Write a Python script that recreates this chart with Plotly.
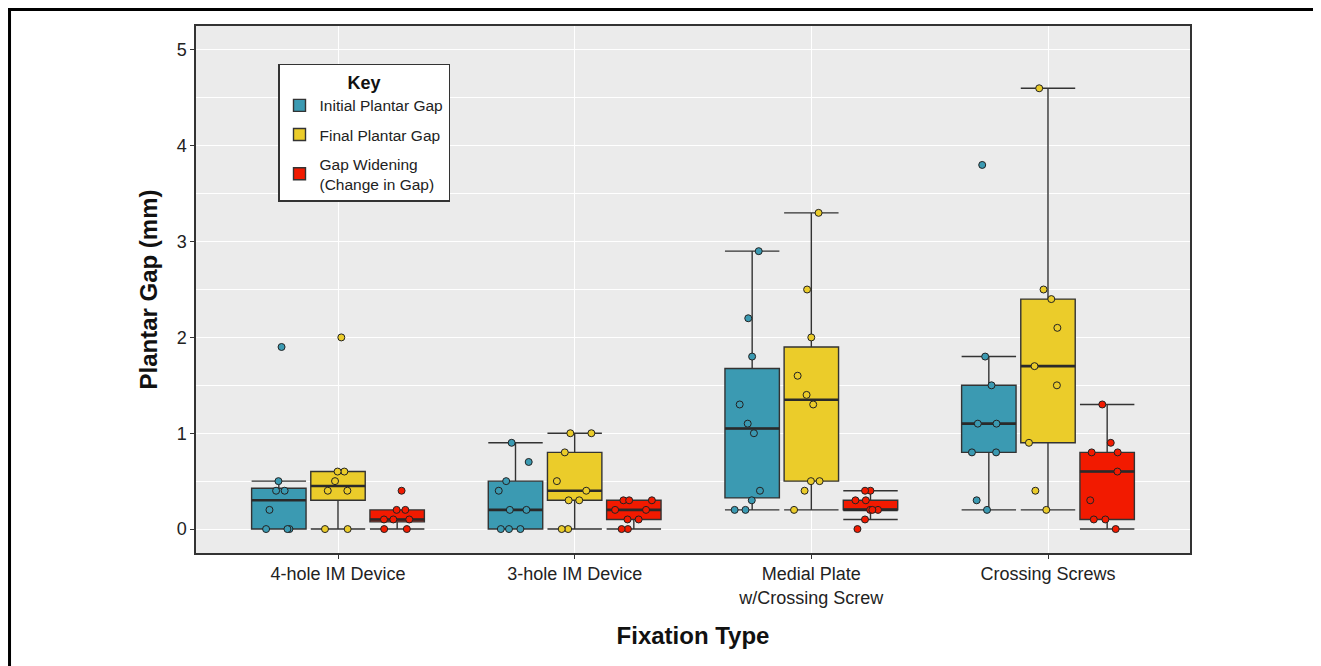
import numpy as np
import plotly.graph_objects as go

categories = ["4-hole IM Device", "3-hole IM Device", "Medial Plate<br>w/Crossing Screw", "Crossing Screws"]
series_names = ["Initial Plantar Gap", "Final Plantar Gap", "Gap Widening<br>(Change in Gap)"]
colors = ["#3B9AB2", "#EBCC2A", "#F21A00"]

initial_gap = [
    [0, 0, 0, 0.2, 0.4, 0.4, 0.5, 1.9],
    [0, 0, 0, 0.2, 0.2, 0.4, 0.5, 0.7, 0.9],
    [0.2, 0.2, 0.3, 0.4, 1.0, 1.1, 1.3, 1.8, 2.2, 2.9],
    [0.2, 0.3, 0.8, 0.8, 1.1, 1.1, 1.5, 1.8, 3.8],
]
final_gap = [
    [0, 0, 0.4, 0.4, 0.5, 0.6, 0.6, 2.0],
    [0, 0, 0.3, 0.3, 0.4, 0.5, 0.8, 1.0, 1.0],
    [0.2, 0.4, 0.5, 0.5, 1.3, 1.4, 1.6, 2.0, 2.5, 3.3],
    [0.2, 0.4, 0.9, 1.5, 1.7, 2.1, 2.4, 2.5, 4.6],
]
gap_widening = [
    [0, 0, 0.1, 0.1, 0.1, 0.2, 0.2, 0.4],
    [0, 0, 0.1, 0.1, 0.2, 0.2, 0.3, 0.3, 0.3],
    [0, 0.1, 0.2, 0.2, 0.2, 0.3, 0.3, 0.4, 0.4],
    [0, 0.1, 0.1, 0.3, 0.6, 0.8, 0.8, 0.9, 1.3],
]

y_ticks = [0, 1, 2, 3, 4, 5]

all_series = [initial_gap, final_gap, gap_widening]


def box_stats(vals):
    a = np.array(vals, dtype=float)
    q1, med, q3 = np.percentile(a, [25, 50, 75])
    iqr = q3 - q1
    lo = a[a >= q1 - 1.5 * iqr].min()
    hi = a[a <= q3 + 1.5 * iqr].max()
    return q1, med, q3, lo, hi


fig = go.Figure()
FONT = "Liberation Sans, Arial, sans-serif"

# boxes (ggplot-style, type-7 quartiles)
for k, (name, col, data) in enumerate(zip(series_names, colors, all_series)):
    stats = [box_stats(v) for v in data]
    fig.add_trace(go.Box(
        x=categories,
        q1=[s[0] for s in stats],
        median=[s[1] for s in stats],
        q3=[s[2] for s in stats],
        lowerfence=[s[3] for s in stats],
        upperfence=[s[4] for s in stats],
        name=name,
        offsetgroup=str(k),
        legendgroup=str(k),
        fillcolor=col,
        line=dict(color="#333333", width=1.4),
        whiskerwidth=1,
        boxpoints=False,
        showlegend=True,
        hoverinfo="skip",
    ))

# thicker median bars (ggplot fatten)
for k, (name, col, data) in enumerate(zip(series_names, colors, all_series)):
    meds = [float(np.median(v)) for v in data]
    fig.add_trace(go.Box(
        x=categories,
        q1=meds, median=meds, q3=meds, lowerfence=meds, upperfence=meds,
        name=name,
        offsetgroup=str(k),
        legendgroup=str(k),
        fillcolor="rgba(0,0,0,0)",
        line=dict(color="#2a2a2a", width=2.6),
        whiskerwidth=0,
        boxpoints=False,
        showlegend=False,
        hoverinfo="skip",
    ))

# jittered points
for k, (name, col, data) in enumerate(zip(series_names, colors, all_series)):
    xs, ys = [], []
    for cat, vals in zip(categories, data):
        xs += [cat] * len(vals)
        ys += list(vals)
    fig.add_trace(go.Box(
        x=xs, y=ys,
        name=name,
        offsetgroup=str(k),
        legendgroup=str(k),
        fillcolor="rgba(0,0,0,0)",
        line=dict(color="rgba(0,0,0,0)", width=0),
        boxpoints="all",
        jitter=0.75,
        pointpos=0,
        marker=dict(color=col, size=7, line=dict(color="#222222", width=1)),
        showlegend=False,
    ))

fig.update_layout(
    width=1321, height=666,
    margin=dict(l=188, r=139, t=18, b=121),
    paper_bgcolor="white",
    plot_bgcolor="#EBEBEB",
    boxmode="group",
    boxgap=0.25,
    boxgroupgap=0.08,
    font=dict(family=FONT, color="#222222", size=15),
    legend=dict(
        x=0.0825, y=0.928, xanchor="left", yanchor="top",
        bgcolor="white", bordercolor="#333333", borderwidth=1.5,
        title=dict(text="<b>Key</b>", side="top center", font=dict(size=18, color="#111111")),
        font=dict(size=15.5, color="#222222"),
        traceorder="grouped", tracegroupgap=6,
    ),
    shapes=[dict(type="rect", xref="paper", yref="paper",
                 x0=-0.1876, x1=1.1288, y0=-0.3, y1=1.0313,
                 line=dict(color="black", width=3), fillcolor="rgba(0,0,0,0)")],
)

fig.update_xaxes(
    range=[-0.6, 3.6],
    showgrid=True, gridcolor="white", gridwidth=1.2,
    ticks="outside", ticklen=4, tickcolor="#333333",
    showline=True, mirror=True, linecolor="#333333", linewidth=1.5,
    tickfont=dict(size=18, color="#222222"),
    title=dict(text="<b>Fixation Type</b>", font=dict(size=24, color="#111111"), standoff=20),
)
fig.update_yaxes(
    range=[-0.25, 5.25], tickvals=y_ticks, zeroline=False,
    showgrid=True, gridcolor="white", gridwidth=1.2,
    minor=dict(dtick=0.5, showgrid=True, gridcolor="white", gridwidth=0.6),
    ticks="outside", ticklen=4, tickcolor="#333333",
    showline=True, mirror=True, linecolor="#333333", linewidth=1.5,
    tickfont=dict(size=18, color="#222222"),
    title=dict(text="<b>Plantar Gap (mm)</b>", font=dict(size=24, color="#111111"), standoff=12),
)

fig.write_html("out.html")
